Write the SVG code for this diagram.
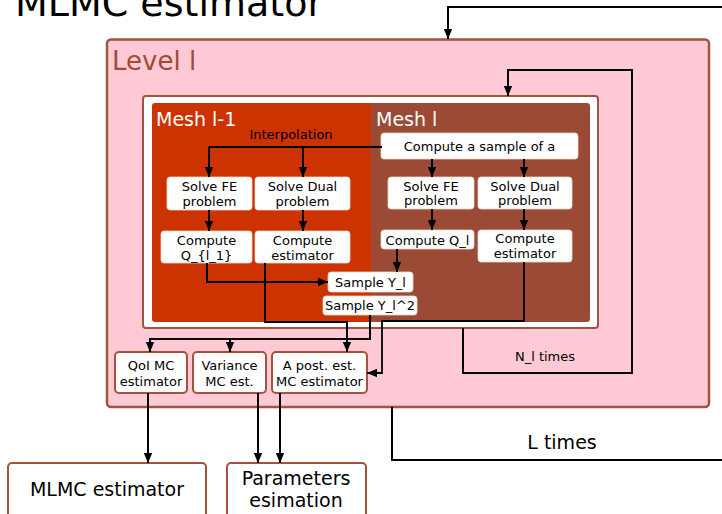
<svg xmlns="http://www.w3.org/2000/svg" width="722" height="514" viewBox="0 0 722 514">
<style>
text{font-family:"DejaVu Sans","Liberation Sans",sans-serif;fill:#000}
.t{font-size:13px;text-anchor:middle}
.wb{fill:#fff;stroke:#e8d8d0;stroke-width:0.8}
.eb{fill:#fff;stroke:#a3533d;stroke-width:2}
.c{fill:none;stroke:#000;stroke-width:2}
.ca{fill:none;stroke:#000;stroke-width:2;marker-end:url(#ah)}
</style>
<defs>
<marker id="ah" markerUnits="userSpaceOnUse" markerWidth="10" markerHeight="10" viewBox="0 0 10 10" refX="10" refY="5" orient="auto">
<path d="M0,0.8 L10,5 L0,9.2 z" fill="#000"/>
</marker>
</defs>
<text x="15" y="16" style="font-size:38px">MLMC estimator</text>
<g id="level">
<rect x="107" y="39.5" width="602" height="367.5" rx="4" fill="#ffcad6" stroke="#a3533d" stroke-width="2.5"/>
<text x="112" y="70" style="font-size:26px;fill:#a04b37">Level l</text>
</g>
<g id="inner">
<rect x="143" y="96" width="455" height="232" rx="3" fill="#fff" stroke="#a3533d" stroke-width="2"/>
</g>
<g id="mesh-l1">
<rect x="152" y="103" width="222" height="219" rx="3" fill="#cc3300"/>
<text x="156" y="126" style="font-size:19px;fill:#fff">Mesh l-1</text>
<text x="291" y="139" style="font-size:13px;text-anchor:middle">Interpolation</text>
</g>
<g id="mesh-l">
<rect x="371" y="103" width="219" height="219" rx="3" fill="#9b4b35"/>
<rect x="371" y="103" width="6" height="219" fill="#9b4b35"/>
<text x="376" y="126" style="font-size:19px;fill:#fff">Mesh l</text>
</g>
<g id="solve-fe-1"><rect class="wb" x="167" y="177" width="85" height="33" rx="3"/><text class="t" x="209.5" y="191">Solve FE</text><text class="t" x="209.5" y="206">problem</text></g>
<g id="solve-dual-1"><rect class="wb" x="255" y="177" width="95" height="33" rx="3"/><text class="t" x="302.5" y="191">Solve Dual</text><text class="t" x="302.5" y="206">problem</text></g>
<g id="compute-q1"><rect class="wb" x="161" y="231" width="91" height="32" rx="3"/><text class="t" x="206.5" y="245">Compute</text><text class="t" x="206.5" y="260">Q_{l_1}</text></g>
<g id="compute-est-1"><rect class="wb" x="255" y="231" width="95" height="32" rx="3"/><text class="t" x="302.5" y="245">Compute</text><text class="t" x="302.5" y="260">estimator</text></g>
<g id="sample-a"><rect class="wb" x="381" y="133" width="197" height="26" rx="3"/><text class="t" x="479.5" y="151">Compute a sample of a</text></g>
<g id="solve-fe-2"><rect class="wb" x="388" y="177" width="86" height="32" rx="3"/><text class="t" x="431" y="191">Solve FE</text><text class="t" x="431" y="205">problem</text></g>
<g id="solve-dual-2"><rect class="wb" x="478" y="177" width="94" height="32" rx="3"/><text class="t" x="525" y="191">Solve Dual</text><text class="t" x="525" y="205">problem</text></g>
<g id="compute-q2"><rect class="wb" x="381" y="230" width="93" height="19" rx="3"/><text class="t" x="427.5" y="245">Compute Q_l</text></g>
<g id="compute-est-2"><rect class="wb" x="478" y="230" width="94" height="32" rx="3"/><text class="t" x="525" y="243">Compute</text><text class="t" x="525" y="258">estimator</text></g>
<g id="sample-y"><rect class="wb" x="328" y="272" width="85" height="20" rx="3"/><text class="t" x="370.5" y="286.5">Sample Y_l</text></g>
<g id="sample-y2"><rect class="wb" x="323" y="296" width="94" height="19" rx="3"/><text class="t" x="370" y="310">Sample Y_l^2</text></g>
<g id="qoi"><rect class="eb" x="115" y="352" width="72" height="41" rx="4"/><text class="t" x="151" y="370">QoI MC</text><text class="t" x="151" y="386">estimator</text></g>
<g id="variance"><rect class="eb" x="193" y="352" width="73" height="41" rx="4"/><text class="t" x="229.5" y="370">Variance</text><text class="t" x="229.5" y="386">MC est.</text></g>
<g id="apost"><rect class="eb" x="272" y="352" width="95" height="41" rx="4"/><text class="t" x="319.5" y="370">A post. est.</text><text class="t" x="319.5" y="386">MC estimator</text></g>
<g id="mlmc"><rect class="eb" x="8" y="463" width="198" height="60" rx="4"/><text x="107" y="496" style="font-size:19px;text-anchor:middle">MLMC estimator</text></g>
<g id="params"><rect class="eb" x="227" y="463" width="139" height="60" rx="4"/><text x="296" y="485" style="font-size:19px;text-anchor:middle">Parameters</text><text x="296" y="507" style="font-size:19px;text-anchor:middle">esimation</text></g>
<g id="connectors">
<path class="c" d="M382,147 H209"/>
<path class="ca" d="M209,147 V177"/>
<path class="ca" d="M303,147 V177"/>
<path class="ca" d="M209,210 V231"/>
<path class="ca" d="M303,210 V231"/>
<path class="ca" d="M432,159 V177"/>
<path class="ca" d="M524,159 V177"/>
<path class="ca" d="M432,209 V230"/>
<path class="ca" d="M524,209 V230"/>
<path class="ca" d="M397,249 V272"/>
<path class="ca" d="M207,263 V282 H328"/>
<path class="ca" d="M265,263 V322 H347 V352"/>
<path class="ca" style="stroke-width:1.8" d="M524,262 V321 H382 V373 H367"/>
<path class="ca" d="M370,315 V339 H150 V352"/>
<path class="ca" d="M230,339 V352"/>
<path class="ca" d="M463,328 V373 H632 V70 H508 V96"/>
<path class="c" d="M392,407 V460 H722"/>
<path class="ca" d="M722,7 H448 V39"/>
<path class="ca" d="M148,393 V463"/>
<path class="ca" d="M258,393 V463"/>
<path class="ca" d="M280,393 V463"/>
</g>
<text x="545" y="361" style="font-size:13px;text-anchor:middle">N_l times</text>
<text x="562" y="449" style="font-size:19px;text-anchor:middle">L times</text>
</svg>
